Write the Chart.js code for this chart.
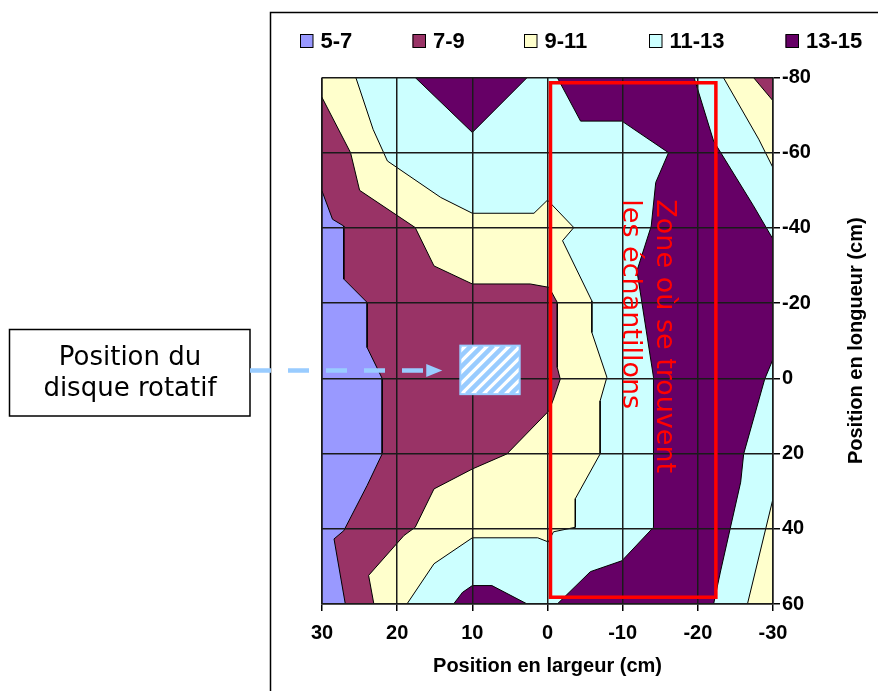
<!DOCTYPE html>
<html><head><meta charset="utf-8">
<script src="https://cdn.jsdelivr.net/npm/chart.js@4/dist/chart.umd.min.js"></script>
<style>html,body{margin:0;padding:0;background:#fff}canvas{display:block}</style>
</head><body>
<canvas id="c" width="878" height="691" style="width:878px;height:691px"></canvas>
<script>
// ---- bands (legend) ----
const bandLabels = ['5-7', '7-9', '9-11', '11-13', '13-15'];
const bandColors = ['#9999FF', '#993366', '#FFFFCC', '#CCFFFF', '#660066'];

// ---- tick labels ----
const xTicks = [30, 20, 10, 0, -10, -20, -30];
const yTicks = [-80, -60, -40, -20, 0, 20, 40, 60];

// ---- contour regions, [largeur cm, longueur cm], painted in order ----
const zoneBack1113 = [[30,-80],[-30,-80],[-30,60],[30,60]];
const zoneLeft911 = [[30,-80],[25.5,-80],[23.2,-66.2],[21.3,-57.8],[14.2,-48.1],[10,-43.9],[1.8,-43.9],[0,-47.4],[-3.5,-40.1],[-2,-36.6],[-5.9,-20.6],[-5.9,-12.2],[-7.9,-0.3],[-7,6],[-7,20.1],[-3.7,32],[-3.7,39.6],[-0.8,40.8],[-0.1,43.5],[1.3,42.4],[10,42.4],[15.1,49.3],[18.7,60],[30,60]];
const zoneLeft79 = [[30,-74.7],[26.2,-60],[25,-50],[17.6,-40.1],[15.1,-29.9],[10,-25.1],[2.3,-25.1],[-0.2,-24.2],[-1.3,-20.2],[-1.3,-2.9],[-1.7,0.2],[-0.8,5.5],[-0.2,8.6],[5.4,20.1],[10,24.1],[15.1,29.4],[17.6,39.6],[19.1,41.8],[23.8,52.4],[23.1,60],[30,60]];
const zoneLeft57 = [[30,-49.8],[28.6,-42.3],[27.1,-40.5],[27.1,-26.4],[24,-20.2],[24,-8.2],[22,0],[22,20.1],[24,28.5],[27.1,40.5],[28.4,42.7],[26.9,60],[30,60]];
const zoneTop1315 = [[17.6,-80],[10,-65.4],[2.7,-80]];
const zoneBottom1315 = [[12.5,60],[11.3,56.9],[10,55.1],[7.4,55.1],[2.7,60]];
const zoneMain1315 = [[-1.3,-80],[-19.5,-80],[-22.1,-63.1],[-27.4,-45.9],[-30,-37],[-30,-5.1],[-28.9,0.2],[-26.1,20.1],[-25.7,27.6],[-23,51.5],[-22.1,60],[-1.3,60],[-5.7,51.4],[-9.9,48.5],[-14.1,39.6],[-14.1,-0.3],[-11.9,-28.6],[-13.8,-40.5],[-14.4,-52.1],[-16.1,-60],[-9.9,-68.4],[-4.4,-68.4]];
const zoneTopRight911 = [[-23.4,-80],[-30,-80],[-30,-56],[-28.1,-63.6]];
const zoneTopRight79 = [[-27.4,-80],[-30,-80],[-30,-73.8]];
const zoneBottomRight911 = [[-30,32],[-30,60],[-26.6,60]];

const layers = [
  {band: 3, pts: zoneBack1113, edge: 0},
  {band: 2, pts: zoneLeft911},
  {band: 1, pts: zoneLeft79},
  {band: 0, pts: zoneLeft57},
  {band: 4, pts: zoneTop1315},
  {band: 4, pts: zoneBottom1315},
  {band: 4, pts: zoneMain1315},
  {band: 2, pts: zoneTopRight911},
  {band: 1, pts: zoneTopRight79},
  {band: 2, pts: zoneBottomRight911}
];

// ---- annotations (data units) ----
const diskBox = {x1: 11.6, x2: 3.7, y1: -8.7, y2: 4.2};
const arrowTip = {x: 14.0, y: -2.1};
const sampleZone = {x1: -0.4, x2: -22.4, y1: -78.6, y2: 58.2};
const sampleText = {x1: -14.6, x2: -10.1, y: -47.6};
const sampleLines = ['Zone où se trouvent', 'les échantillons'];
const diskLines = ['Position du', 'disque rotatif'];

const AR = "'Liberation Sans', Arial, sans-serif";
const VE = "'DejaVu Sans', Verdana, sans-serif";

const datasets = layers.map((L, i) => {
  const d = L.pts.concat([L.pts[0]]).map(p => ({x: p[0], y: p[1]}));
  return {
    data: d,
    showLine: true,
    fill: false,
    tension: 0,
    pointRadius: 0,
    pointHoverRadius: 0,
    borderColor: '#000',
    borderWidth: L.edge === 0 ? 0 : 1,
    areaColor: bandColors[L.band],
    order: -i
  };
});

const polyFill = {
  id: 'polyFill',
  beforeDatasetDraw(chart, args) {
    const ds = chart.data.datasets[args.index];
    const pts = args.meta.data;
    if (!ds.areaColor || !pts.length) return;
    const {ctx, chartArea: a} = chart;
    ctx.save();
    ctx.beginPath();
    ctx.rect(a.left, a.top, a.right - a.left, a.bottom - a.top);
    ctx.clip();
    ctx.beginPath();
    pts.forEach((p, i) => i ? ctx.lineTo(p.x, p.y) : ctx.moveTo(p.x, p.y));
    ctx.closePath();
    ctx.fillStyle = ds.areaColor;
    ctx.fill();
    ctx.restore();
  }
};

const overlay = {
  id: 'overlay',
  afterDraw(chart) {
    const {ctx} = chart;
    const xs = chart.scales.x, ys = chart.scales.y;
    const X = v => xs.getPixelForValue(v), Y = v => ys.getPixelForValue(v);
    const a = chart.chartArea;
    ctx.save();

    // chart object border (left and top)
    ctx.strokeStyle = '#000'; ctx.lineWidth = 1.5;
    ctx.beginPath(); ctx.moveTo(270.5, 691); ctx.lineTo(270.5, 12.5); ctx.lineTo(878, 12.5); ctx.stroke();

    // legend
    ctx.font = 'bold 22px ' + AR;
    ctx.textBaseline = 'middle'; ctx.textAlign = 'left';
    const legX = [300, 412.5, 524, 649, 785.5];
    bandLabels.forEach((lab, i) => {
      ctx.fillStyle = bandColors[i];
      ctx.fillRect(legX[i], 34.5, 13, 13);
      ctx.strokeStyle = '#000'; ctx.lineWidth = 1;
      ctx.strokeRect(legX[i] + 0.5, 34.5, 12.5, 13);
      ctx.fillStyle = '#000';
      ctx.fillText(lab, legX[i] + 20.5, 42);
    });

    // axis titles
    ctx.font = 'bold 20px ' + AR;
    ctx.textAlign = 'center'; ctx.textBaseline = 'middle';
    ctx.fillText('Position en largeur (cm)', (a.left + a.right) / 2, 666);
    ctx.save();
    ctx.translate(856, (a.top + a.bottom) / 2);
    ctx.rotate(-Math.PI / 2);
    ctx.fillText('Position en longueur (cm)', 0, 0);
    ctx.restore();

    // disk box (hatched)
    const bx0 = X(diskBox.x1), bx1 = X(diskBox.x2), by0 = Y(diskBox.y1), by1 = Y(diskBox.y2);
    ctx.save();
    ctx.fillStyle = '#fff';
    ctx.fillRect(bx0, by0, bx1 - bx0, by1 - by0);
    ctx.beginPath(); ctx.rect(bx0, by0, bx1 - bx0, by1 - by0); ctx.clip();
    ctx.strokeStyle = '#99CCFF'; ctx.lineWidth = 4.5;
    const h = by1 - by0;
    for (let k = -h; k < bx1 - bx0 + h; k += 11) {
      ctx.beginPath(); ctx.moveTo(bx0 + k, by1); ctx.lineTo(bx0 + k + h, by0); ctx.stroke();
    }
    ctx.restore();
    ctx.strokeStyle = '#99CCFF'; ctx.lineWidth = 2;
    ctx.strokeRect(bx0, by0, bx1 - bx0, by1 - by0);

    // left note box
    ctx.fillStyle = '#fff';
    ctx.fillRect(9.5, 329.5, 240.5, 86.5);
    ctx.strokeStyle = '#000'; ctx.lineWidth = 1.5;
    ctx.strokeRect(9.5, 329.5, 240.5, 86.5);
    ctx.fillStyle = '#000';
    ctx.font = '26px ' + VE;
    ctx.textAlign = 'center'; ctx.textBaseline = 'middle';
    ctx.fillText(diskLines[0], 130, 358);
    ctx.fillText(diskLines[1], 130, 389);

    // dashed arrow
    const ty = Y(arrowTip.y), tx = X(arrowTip.x);
    ctx.strokeStyle = '#99CCFF'; ctx.lineWidth = 4.5;
    ctx.setLineDash([21, 17]);
    ctx.beginPath(); ctx.moveTo(250, ty); ctx.lineTo(tx - 16, ty); ctx.stroke();
    ctx.setLineDash([]);
    ctx.fillStyle = '#99CCFF';
    ctx.beginPath(); ctx.moveTo(tx - 16, ty - 6.5); ctx.lineTo(tx, ty); ctx.lineTo(tx - 16, ty + 6.5); ctx.closePath(); ctx.fill();

    // sample zone
    ctx.strokeStyle = '#FF0000'; ctx.lineWidth = 3.5;
    ctx.strokeRect(X(sampleZone.x1), Y(sampleZone.y1), X(sampleZone.x2) - X(sampleZone.x1), Y(sampleZone.y2) - Y(sampleZone.y1));
    ctx.fillStyle = '#FF0000';
    ctx.font = '27px ' + VE;
    ctx.textAlign = 'left'; ctx.textBaseline = 'alphabetic';
    [sampleText.x1, sampleText.x2].forEach((xv, i) => {
      ctx.save();
      ctx.translate(X(xv), Y(sampleText.y));
      ctx.rotate(Math.PI / 2);
      ctx.fillText(sampleLines[i], 0, 0);
      ctx.restore();
    });
    ctx.restore();
  }
};

new Chart(document.getElementById('c'), {
  type: 'scatter',
  data: {datasets},
  options: {
    responsive: false,
    animation: false,
    events: [],
    layout: {padding: {left: 322, top: 77.5, right: 0, bottom: 0}},
    plugins: {legend: {display: false}, tooltip: {enabled: false}, title: {display: false}},
    scales: {
      x: {
        type: 'linear', min: -30, max: 30, reverse: true, position: 'bottom',
        afterFit: s => { s.height = 87; },
        afterBuildTicks: s => { s.ticks = xTicks.map(v => ({value: v})); },
        grid: {z: 1, color: '#1a1a1a', lineWidth: 1.5, tickLength: 7, drawTicks: true, tickColor: '#000', tickWidth: 1.5},
        border: {z: 1, color: '#1a1a1a', width: 1.5},
        ticks: {font: {family: AR, size: 20, weight: 'bold'}, color: '#000', padding: 10, maxRotation: 0, autoSkip: false}
      },
      y: {
        type: 'linear', min: -80, max: 60, reverse: true, position: 'right',
        afterFit: s => { s.width = 105; },
        afterBuildTicks: s => { s.ticks = yTicks.map(v => ({value: v})); },
        grid: {z: 1, color: '#1a1a1a', lineWidth: 1.5, tickLength: 7, drawTicks: true, tickColor: '#000', tickWidth: 1.5},
        border: {z: 1, color: '#1a1a1a', width: 1.5},
        ticks: {font: {family: AR, size: 20, weight: 'bold'}, color: '#000', padding: 2, autoSkip: false}
      }
    }
  },
  plugins: [polyFill, overlay]
});
</script>
</body></html>
